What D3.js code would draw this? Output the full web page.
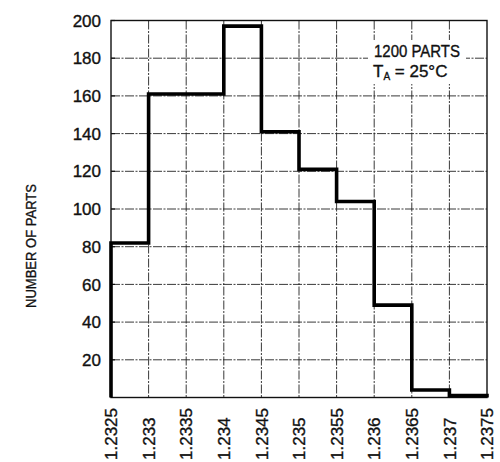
<!DOCTYPE html>
<html>
<head>
<meta charset="utf-8">
<script src="https://cdn.jsdelivr.net/npm/d3@7"></script>
<style>
  html, body { margin: 0; padding: 0; background: #fff; }
  svg { display: block; }
  text { font-family: "Liberation Sans", Arial, Helvetica, sans-serif; fill: #111; stroke: #111; stroke-width: 0.35px; }
</style>
</head>
<body>
<svg id="chart" width="500" height="462"></svg>
<script>
// ---- data ----
const binEdges = [1.2325, 1.233, 1.2335, 1.234, 1.2345, 1.235, 1.2355, 1.236, 1.2365, 1.237, 1.2375];
const xTickLabels = ["1.2325", "1.233", "1.2335", "1.234", "1.2345", "1.235", "1.2355", "1.236", "1.2365", "1.237", "1.2375"];
const partCounts = [82, 161, 161, 197, 141, 121, 104, 49, 4, 1];
const yTicks = [20, 40, 60, 80, 100, 120, 140, 160, 180, 200];
const yTitle = "NUMBER OF PARTS";
const noteLine1 = "1200 PARTS";

// ---- layout ----
const svg = d3.select("#chart");
const mLeft = 111, mRight = 487, mTop = 20.5, mBottom = 397.5;

const x = d3.scaleLinear().domain([binEdges[0], binEdges[binEdges.length - 1]]).range([mLeft, mRight]);
const y = d3.scaleLinear().domain([0, 200]).range([mBottom, mTop]);

// grid
const grid = svg.append("g");
grid.selectAll("line.h").data(yTicks.filter(d => d < 200)).join("line")
  .attr("x1", mLeft).attr("x2", mRight)
  .attr("y1", d => y(d)).attr("y2", d => y(d))
  .attr("stroke", "#222").attr("stroke-width", 0.9)
  .attr("stroke-dasharray", "9,1.5,2,1.5");
grid.selectAll("line.v").data(binEdges.slice(1, -1)).join("line")
  .attr("y1", mTop).attr("y2", mBottom)
  .attr("x1", d => x(d)).attr("x2", d => x(d))
  .attr("stroke", "#222").attr("stroke-width", 0.9)
  .attr("stroke-dasharray", "9,1.5,2,1.5");

// frame
svg.append("rect")
  .attr("x", mLeft).attr("y", mTop)
  .attr("width", mRight - mLeft).attr("height", mBottom - mTop)
  .attr("fill", "none").attr("stroke", "#111").attr("stroke-width", 1.4);

// y tick marks
svg.append("g").selectAll("line").data(yTicks).join("line")
  .attr("x1", mLeft).attr("x2", mLeft + 4)
  .attr("y1", d => y(d)).attr("y2", d => y(d))
  .attr("stroke", "#111").attr("stroke-width", 1.2);

// histogram outline
const pts = [{ x: binEdges[0], v: 0 }];
partCounts.forEach((c, i) => pts.push({ x: binEdges[i], v: c }));
pts.push({ x: binEdges[binEdges.length - 1], v: partCounts[partCounts.length - 1] });
pts.push({ x: binEdges[binEdges.length - 1], v: 0 });
const line = d3.line().x(d => x(d.x)).y(d => y(d.v)).curve(d3.curveStepAfter);
svg.append("path")
  .attr("d", line(pts))
  .attr("fill", "none")
  .attr("stroke", "#000")
  .attr("stroke-width", 3.6)
  .attr("stroke-linejoin", "miter");

// y tick labels
svg.append("g").selectAll("text").data(yTicks).join("text")
  .attr("x", 101).attr("y", d => y(d))
  .attr("dy", "0.36em")
  .attr("text-anchor", "end")
  .attr("font-size", 17)
  .text(d => d);

// x tick labels (rotated)
svg.append("g").selectAll("text").data(binEdges).join("text")
  .attr("transform", d => `translate(${x(d)},460) rotate(-90)`)
  .attr("dy", "0.36em")
  .attr("text-anchor", "start")
  .attr("font-size", 17)
  .text((d, i) => xTickLabels[i]);

// y axis title
svg.append("text")
  .attr("transform", "translate(31,246) rotate(-90)")
  .attr("dy", "0.36em")
  .attr("text-anchor", "middle")
  .attr("font-size", 15)
  .attr("textLength", 124)
  .attr("lengthAdjust", "spacingAndGlyphs")
  .text(yTitle);

// annotation
const note = svg.append("g");
note.append("rect").attr("x", 368).attr("y", 40).attr("width", 98).attr("height", 44).attr("fill", "#fff");
note.append("text")
  .attr("x", 417).attr("y", 56.5)
  .attr("text-anchor", "middle")
  .attr("font-size", 16)
  .attr("textLength", 86)
  .attr("lengthAdjust", "spacingAndGlyphs")
  .text(noteLine1);
const t2 = note.append("text")
  .attr("x", 373).attr("y", 77)
  .attr("font-size", 17);
t2.append("tspan").text("T");
t2.append("tspan").attr("font-size", 10).attr("dy", 3).text("A");
t2.append("tspan").attr("dy", -3).text(" = 25°C");
</script>
</body>
</html>
